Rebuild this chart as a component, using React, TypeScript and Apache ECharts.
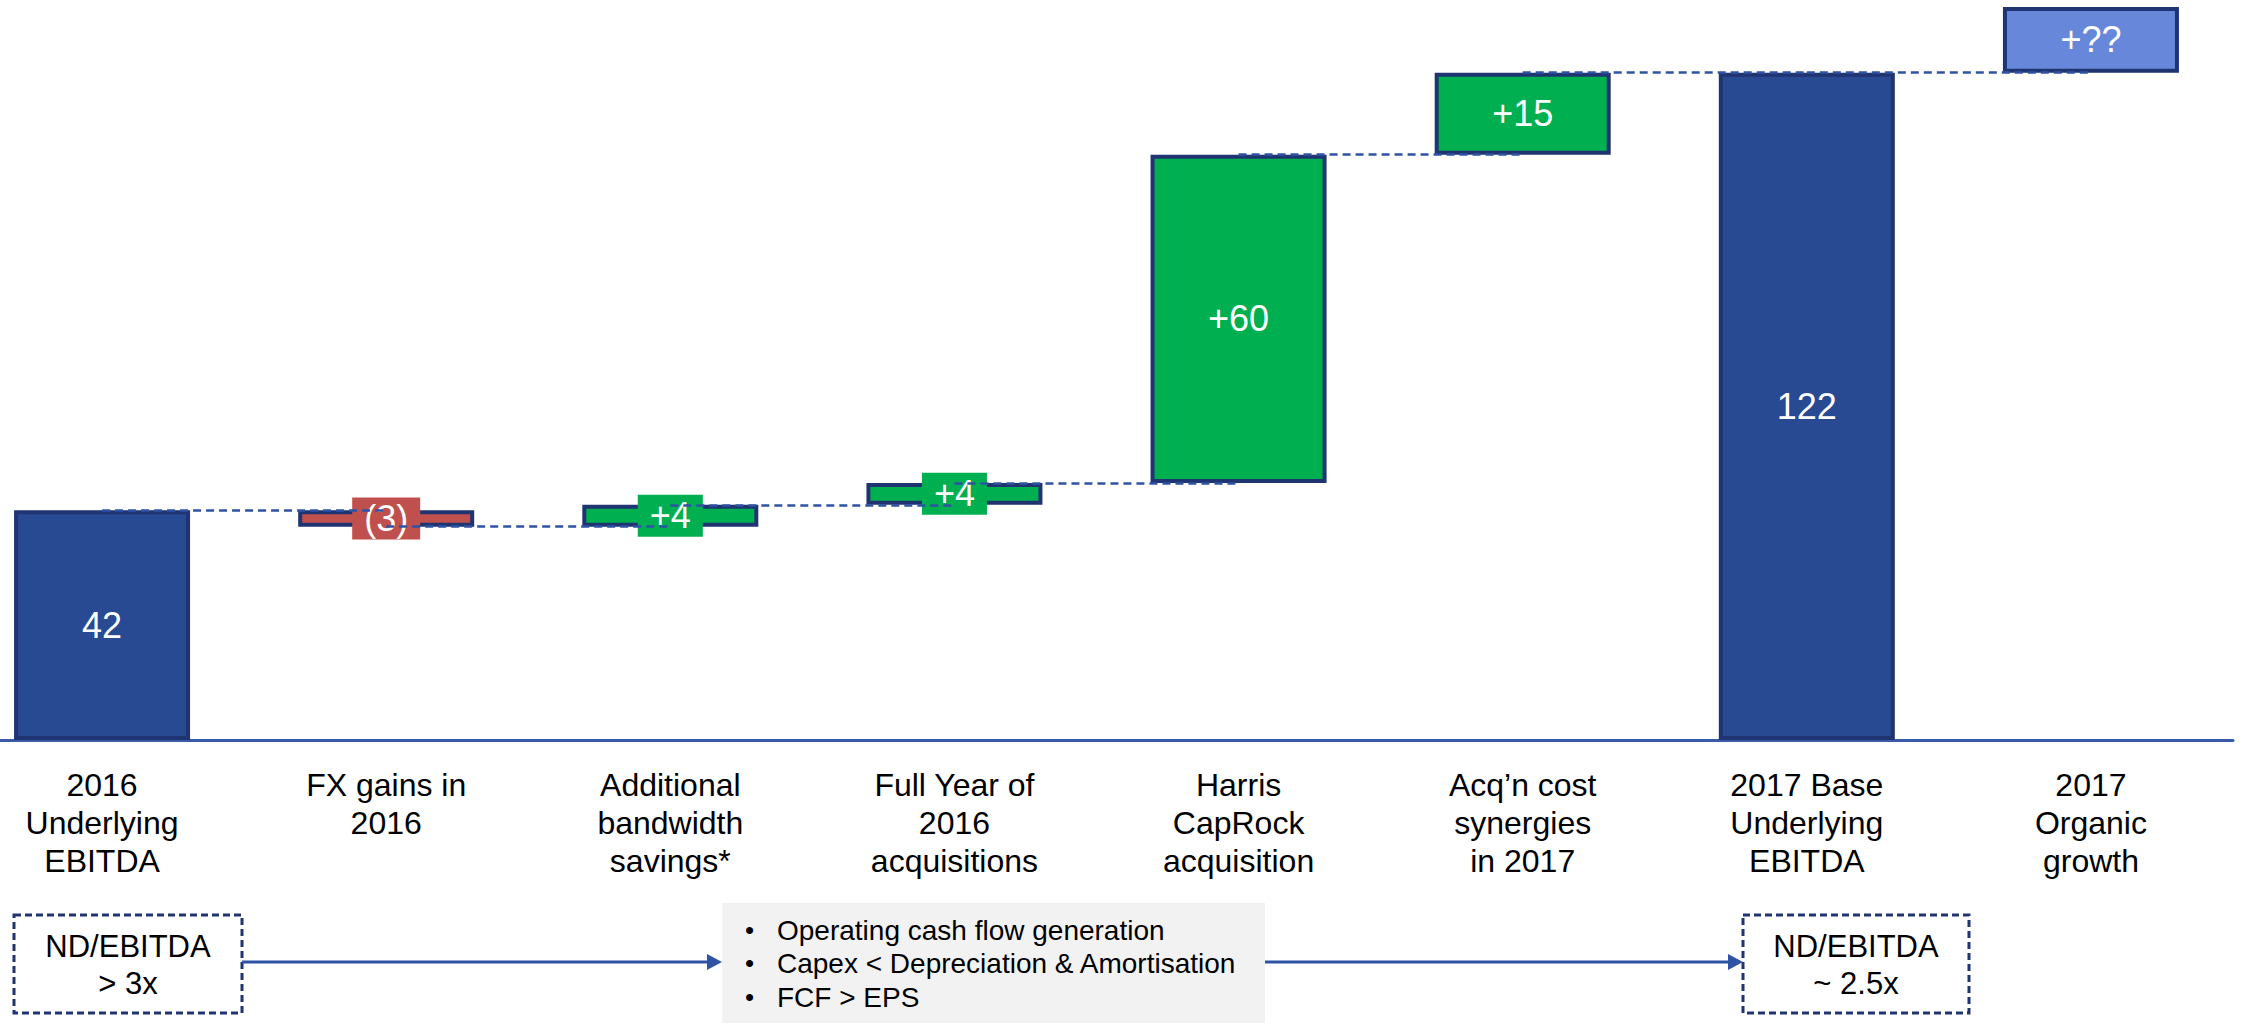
import React, { useEffect, useRef } from "react";
import * as echarts from "echarts";

// Waterfall steps from 2016 to 2017 underlying EBITDA
const categories = [
  "2016\nUnderlying\nEBITDA",
  "FX gains in\n2016",
  "Additional\nbandwidth\nsavings*",
  "Full Year of\n2016\nacquisitions",
  "Harris\nCapRock\nacquisition",
  "Acq\u2019n cost\nsynergies\nin 2017",
  "2017 Base\nUnderlying\nEBITDA",
  "2017\nOrganic\ngrowth",
];
const changes = [42, -3, 4, 4, 60, 15, 122, 12];
const barKinds = ["total", "down", "up", "up", "up", "up", "total", "outlook"];
const valueLabels = ["42", "(3)", "+4", "+4", "+60", "+15", "122", "+??"];

// Leverage notes under the chart
const leftBoxText = "ND/EBITDA\n> 3x";
const rightBoxText = "ND/EBITDA\n~ 2.5x";
const bulletLines = [
  "Operating cash flow generation",
  "Capex < Depreciation & Amortisation",
  "FCF > EPS",
];

const FONT = "Arial, 'Liberation Sans', sans-serif";
const NAVY = "#1F3470";
const LINE_BLUE = "#2F53A4";
const fills: Record<string, string> = {
  total: "#284A93",
  down: "#C0504D",
  up: "#00B050",
  outlook: "#6788DA",
};

// The chart canvas starts a little left of the page so the first bar sits near the edge
const SHIFT = 40;
// Steps shorter than this are too thin to hold their label, so the label gets a tab of the bar colour
const THIN_STEP = 8;

function buildWaterfall() {
  const base: number[] = [];
  const size: number[] = [];
  const levels: number[] = [];
  let running = 0;
  changes.forEach((v, i) => {
    if (barKinds[i] === "total") {
      base.push(0);
      size.push(v);
      running = v;
    } else if (v >= 0) {
      base.push(running);
      size.push(v);
      running += v;
    } else {
      running += v;
      base.push(running);
      size.push(-v);
    }
    levels.push(running);
  });
  return { base, size, levels, top: running };
}

export default function App() {
  const ref = useRef<HTMLDivElement>(null);

  useEffect(() => {
    if (!ref.current) return;
    const chart = echarts.init(ref.current, undefined, { renderer: "svg" });
    const { base, size, levels, top } = buildWaterfall();

    const connectors = levels.slice(0, -1).map((lv, i) => [
      { coord: [i, lv] },
      { coord: [i + 1, lv] },
    ]);

    const visible = size.map((v, i) => {
      const fill = fills[barKinds[i]];
      const item: any = { value: v, itemStyle: { color: fill } };
      if (v < THIN_STEP) {
        item.label = { backgroundColor: fill, padding: [3, 12] };
      }
      return item;
    });

    const X = (x: number) => x + SHIFT;

    const boxText = (cx: number, cy: number, text: string) => ({
      type: "text",
      x: X(cx),
      y: cy,
      style: {
        text,
        fontSize: 31,
        lineHeight: 37,
        fontFamily: FONT,
        fill: "#000",
        align: "center",
        verticalAlign: "middle",
      },
    });

    const bulletY = [930, 963, 997];
    const bulletGraphics: any[] = [];
    bulletLines.forEach((t, i) => {
      bulletGraphics.push({
        type: "text",
        x: X(745),
        y: bulletY[i],
        style: { text: "\u2022", fontSize: 26, fontFamily: FONT, fill: "#000", verticalAlign: "middle" },
      });
      bulletGraphics.push({
        type: "text",
        x: X(777),
        y: bulletY[i],
        style: { text: t, fontSize: 28, fontFamily: FONT, fill: "#000", verticalAlign: "middle" },
      });
    });

    chart.setOption({
      animation: false,
      grid: { left: 0, right: 24, top: 7, bottom: 288, containLabel: false },
      xAxis: {
        type: "category",
        data: categories,
        axisLine: { lineStyle: { color: "#3A5BA8", width: 3 } },
        axisTick: { show: false },
        axisLabel: {
          interval: 0,
          margin: 26,
          fontSize: 32,
          lineHeight: 38,
          color: "#000",
          fontFamily: FONT,
        },
      },
      yAxis: {
        type: "value",
        min: 0,
        max: top,
        show: false,
        splitLine: { show: false },
      },
      series: [
        {
          type: "bar",
          stack: "wf",
          data: base,
          barWidth: 176,
          z: 1,
          itemStyle: { color: "transparent" },
          emphasis: { disabled: true },
          silent: true,
          markLine: {
            silent: true,
            symbol: ["none", "none"],
            label: { show: false },
            lineStyle: { color: LINE_BLUE, width: 2.5, type: [8, 5] },
            data: connectors,
          },
        },
        {
          type: "bar",
          stack: "wf",
          data: visible,
          barWidth: 176,
          z: 3,
          itemStyle: { borderColor: NAVY, borderWidth: 4 },
          label: {
            show: true,
            position: "inside",
            color: "#fff",
            fontSize: 36,
            fontFamily: FONT,
            formatter: (p: any) => valueLabels[p.dataIndex],
          },
        },
      ],
      graphic: [
        {
          type: "rect",
          shape: { x: X(14), y: 915, width: 228, height: 98 },
          style: { fill: "#fff", stroke: NAVY, lineWidth: 3, lineDash: [7, 4] },
        },
        boxText(128, 965, leftBoxText),
        {
          type: "rect",
          shape: { x: X(722), y: 903, width: 543, height: 120 },
          style: { fill: "#F2F2F2" },
        },
        ...bulletGraphics,
        {
          type: "rect",
          shape: { x: X(1743), y: 915, width: 226, height: 98 },
          style: { fill: "#fff", stroke: NAVY, lineWidth: 3, lineDash: [7, 4] },
        },
        boxText(1856, 965, rightBoxText),
        {
          type: "line",
          shape: { x1: X(242), y1: 962, x2: X(710), y2: 962 },
          style: { stroke: LINE_BLUE, lineWidth: 3 },
        },
        {
          type: "polygon",
          shape: { points: [[X(722), 962], [X(707), 954], [X(707), 970]] },
          style: { fill: LINE_BLUE },
        },
        {
          type: "line",
          shape: { x1: X(1265), y1: 962, x2: X(1731), y2: 962 },
          style: { stroke: LINE_BLUE, lineWidth: 3 },
        },
        {
          type: "polygon",
          shape: { points: [[X(1743), 962], [X(1728), 954], [X(1728), 970]] },
          style: { fill: LINE_BLUE },
        },
      ],
    });

    return () => chart.dispose();
  }, []);

  return (
    <div
      ref={ref}
      style={{ position: "absolute", left: -SHIFT, top: 0, width: 2257 + SHIFT, height: 1028 }}
    />
  );
}
